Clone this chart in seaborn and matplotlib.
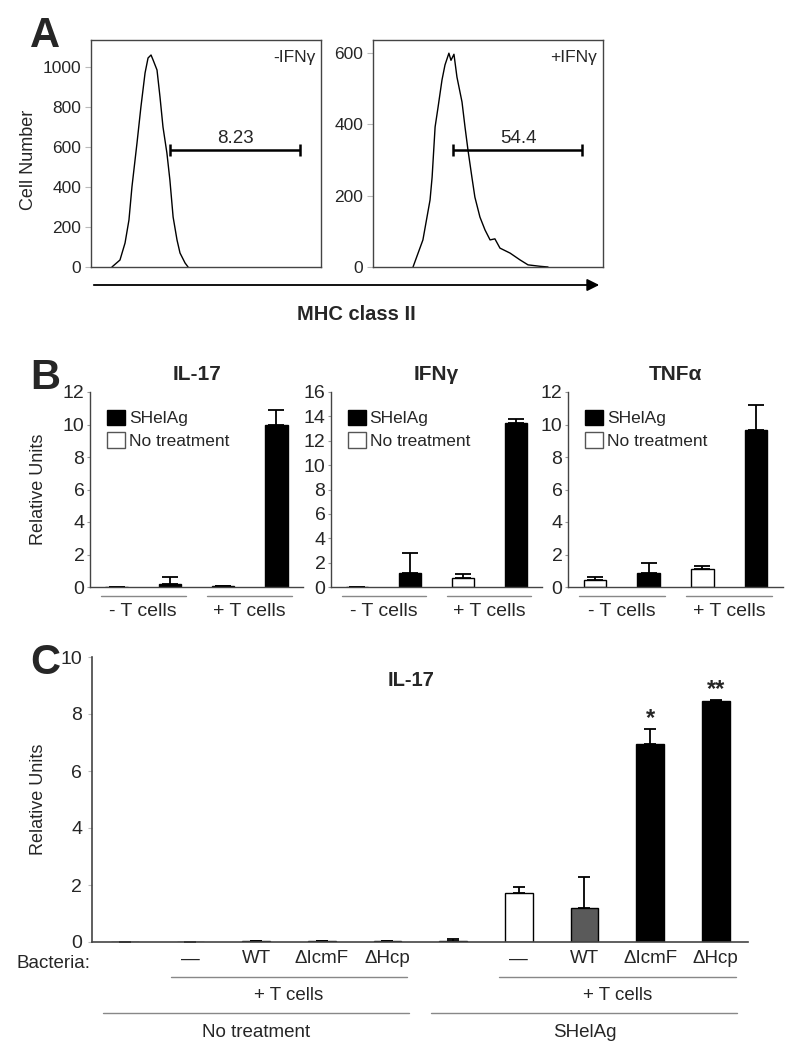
import numpy as np
import pandas as pd
import matplotlib
matplotlib.use("Agg")
import matplotlib.pyplot as plt
import seaborn as sns
from matplotlib.patches import Patch

sns.set_theme(style="white")
plt.rcParams['font.family'] = ['Liberation Sans', 'DejaVu Sans']

# ---------------- Panel A data (flow histograms) ----------------
hist_neg_x = [91, 126, 148, 165, 178, 200, 217, 235, 248, 261, 270, 287, 300,
              313, 330, 343, 357, 374, 387, 409, 422]
hist_neg_y = [0, 35, 120, 235, 400, 620, 800, 970, 1045, 1060, 1035, 985, 850,
              700, 570, 435, 250, 135, 70, 20, 0]
hist_pos_x = [174, 217, 248, 257, 270, 283, 300, 313, 330, 339, 352, 365, 387,
              400, 413, 430, 443, 465, 487, 509, 530, 552, 596, 639, 674, 726, 761]
hist_pos_y = [0, 76, 188, 252, 393, 449, 525, 567, 600, 580, 597, 533, 463,
              393, 328, 252, 196, 140, 104, 76, 79, 53, 39, 20, 6, 2, 0]
gate_neg_x = [343, 909]
gate_neg_y = 585
gate_neg_label = "8.23"
gate_pos_x = [348, 909]
gate_pos_y = 328
gate_pos_label = "54.4"
a_conditions = ["-IFNγ", "+IFNγ"]

# ---------------- Panel B data ----------------
b_groups = ["- T cells", "+ T cells"]
b_group_idx = [[0, 1], [2, 3]]
b_treat = ["No treatment", "SHelAg", "No treatment", "SHelAg"]
b_titles = ["IL-17", "IFNγ", "TNFα"]
il17_vals = [0.0, 0.2, 0.08, 10.0]
il17_err = [0.0, 0.4, 0.0, 0.9]
ifng_vals = [0.0, 1.17, 0.72, 13.45]
ifng_err = [0.0, 1.63, 0.33, 0.35]
tnfa_vals = [0.43, 0.87, 1.1, 9.66]
tnfa_err = [0.17, 0.58, 0.2, 1.54]
b_ymax = [12, 16, 12]

# ---------------- Panel C data ----------------
c_bacteria = ["", "—", "WT", "ΔIcmF", "ΔHcp", "", "—", "WT", "ΔIcmF", "ΔHcp"]
c_vals = [0.0, 0.0, 0.04, 0.04, 0.04, 0.04, 1.72, 1.2, 6.95, 8.45]
c_err = [0.0, 0.0, 0.01, 0.01, 0.01, 0.06, 0.22, 1.08, 0.52, 0.05]
c_colors = ["white", "white", "white", "white", "white", "black",
            "white", "#5a5a5a", "black", "black"]
c_sig = ["", "", "", "", "", "", "", "", "*", "**"]
c_tcell_groups = [[1, 2, 3, 4], [6, 7, 8, 9]]
c_tcell_label = "+ T cells"
c_treat_groups = [[0, 1, 2, 3, 4], [5, 6, 7, 8, 9]]
c_treat_labels = ["No treatment", "SHelAg"]

W, H = 790, 1050
fig = plt.figure(figsize=(W / 100, H / 100), dpi=100)


def rect(x0, y0, x1, y1):
    return [x0 / W, 1 - y1 / H, (x1 - x0) / W, (y1 - y0) / H]


SPINE = "#444444"

# ---------------- Panel A ----------------
a_axes = [fig.add_axes(rect(91, 40, 321, 267)), fig.add_axes(rect(373, 40, 603, 267))]
a_data = [(hist_neg_x, hist_neg_y, gate_neg_x, gate_neg_y, gate_neg_label, 1135, 1000),
          (hist_pos_x, hist_pos_y, gate_pos_x, gate_pos_y, gate_pos_label, 637, 600)]
for ax, (hx, hy, gx, gy, glab, ytop, tmax), cond in zip(a_axes, a_data, a_conditions):
    sns.lineplot(x=hx, y=hy, color="black", lw=1.0, ax=ax)
    ax.set_xlim(0, 1000)
    ax.set_ylim(0, ytop)
    ax.set_yticks(np.arange(0, tmax + 1, 200))
    ax.set_xticks([])
    for s in ax.spines.values():
        s.set_color(SPINE)
        s.set_linewidth(1.0)
    ax.tick_params(axis="y", left=True, length=4, width=0.8, color="#bbbbbb",
                   labelsize=12.5, pad=3)
    cx = (gx[0] + gx[1]) / 2
    ax.errorbar([cx], [gy], xerr=[(gx[1] - gx[0]) / 2], fmt="none", ecolor="black",
                elinewidth=1.8, capsize=4, capthick=1.8)
    ax.text(cx + 4, gy + ytop * 0.03, glab, ha="center", va="baseline", fontsize=13.5)
    ax.text(0.975, 0.955, cond, transform=ax.transAxes, ha="right", va="top", fontsize=12.5)

a_axes[0].set_ylabel("Cell Number", fontsize=13)
a_axes[0].yaxis.set_label_coords(-0.235, 0.47)

fig.text(30 / W, 1 - 16 / H, "A", fontsize=30, fontweight="bold", ha="left", va="top")
fig.add_artist(matplotlib.patches.FancyArrowPatch(
    (91 / W, 1 - 285 / H), (602 / W, 1 - 285 / H), transform=fig.transFigure,
    arrowstyle="-|>", mutation_scale=18, color="black", lw=1.3))
fig.text(356 / W, 1 - 315 / H, "MHC class II", fontsize=14.5, fontweight="bold",
         ha="center", va="center")

# ---------------- Panel B ----------------
b_rects = [rect(90, 392, 303, 587), rect(331, 392, 542, 587), rect(568, 392, 783, 587)]
b_vals = [il17_vals, ifng_vals, tnfa_vals]
b_errs = [il17_err, ifng_err, tnfa_err]
treat_color = {"No treatment": "white", "SHelAg": "black"}

for r, vals, errs, title, ymax in zip(b_rects, b_vals, b_errs, b_titles, b_ymax):
    ax = fig.add_axes(r)
    cats = [f"b{i}" for i in range(len(vals))]
    df = pd.DataFrame({"cat": cats, "val": vals})
    pal = {c: treat_color[t] for c, t in zip(cats, b_treat)}
    sns.barplot(data=df, x="cat", y="val", hue="cat", palette=pal, legend=False,
                width=0.42, saturation=1, edgecolor="black", linewidth=1.0,
                errorbar=None, ax=ax)
    ax.errorbar(np.arange(len(vals)), vals, yerr=[np.zeros(len(vals)), errs],
                fmt="none", ecolor="black", elinewidth=1.3, capsize=6, capthick=1.3)
    ax.set_xlim(-0.5, 3.5)
    ax.set_ylim(0, ymax)
    ax.set_yticks(np.arange(0, ymax + 1, 2))
    ax.set_xticks([])
    ax.set_xlabel("")
    ax.set_ylabel("")
    for side in ["top", "right"]:
        ax.spines[side].set_visible(False)
    for side in ["left", "bottom"]:
        ax.spines[side].set_color(SPINE)
        ax.spines[side].set_linewidth(1.0)
    ax.tick_params(axis="y", left=True, length=2, width=0.8, color="#999999",
                   labelsize=14, pad=2)
    ax.set_title(title, fontsize=15, fontweight="bold", pad=9)
    handles = [Patch(facecolor="black", edgecolor="black", label="SHelAg"),
               Patch(facecolor="white", edgecolor="#555555", label="No treatment")]
    ax.legend(handles=handles, loc="upper left", bbox_to_anchor=(0.08, 0.91),
              frameon=False, fontsize=12.5, handlelength=1.05, handleheight=1.0,
              handletextpad=0.2, labelspacing=0.35, borderpad=0, borderaxespad=0)
    trans = ax.get_xaxis_transform()
    for idx, lab in zip(b_group_idx, b_groups):
        x0, x1 = min(idx) - 0.3, max(idx) + 0.3
        ax.plot([x0, x1], [-0.046, -0.046], transform=trans, color="#888888", lw=1.0,
                clip_on=False)
        ax.text((x0 + x1) / 2, -0.128, lab, transform=trans, ha="center", va="center",
                fontsize=14)
    if title == b_titles[0]:
        ax.set_ylabel("Relative Units", fontsize=13)
        ax.yaxis.set_label_coords(-0.2, 0.5)

fig.text(30 / W, 1 - 358 / H, "B", fontsize=30, fontweight="bold", ha="left", va="top")

# ---------------- Panel C ----------------
axc = fig.add_axes(rect(92, 657, 748, 942))
cats = [f"c{i}" for i in range(len(c_vals))]
dfc = pd.DataFrame({"cat": cats, "val": c_vals})
sns.barplot(data=dfc, x="cat", y="val", hue="cat", palette=dict(zip(cats, c_colors)),
            legend=False, width=0.42, saturation=1, edgecolor="black", linewidth=1.0,
            errorbar=None, ax=axc)
pos = np.arange(len(c_vals))
axc.errorbar(pos, c_vals, yerr=[np.zeros(len(c_vals)), c_err], fmt="none",
             ecolor="black", elinewidth=1.3, capsize=4.3, capthick=1.3)
for x, v, e, s in zip(pos, c_vals, c_err, c_sig):
    if s:
        axc.text(x, v + e + 0.13, s, ha="center", va="baseline", fontsize=17,
                 fontweight="bold")
axc.set_xlim(-0.5, 9.49)
axc.set_ylim(0, 10)
axc.set_yticks(np.arange(0, 11, 2))
axc.set_xticks(pos)
axc.set_xticklabels(c_bacteria, fontsize=13.5)
axc.set_xlabel("")
axc.set_ylabel("Relative Units", fontsize=13)
axc.yaxis.set_label_coords(-0.069, 0.5)
for side in ["top", "right"]:
    axc.spines[side].set_visible(False)
for side in ["left", "bottom"]:
    axc.spines[side].set_color(SPINE)
    axc.spines[side].set_linewidth(1.2)
axc.tick_params(axis="y", left=True, length=3, width=0.8, color="#bbbbbb",
                labelsize=14, pad=4)
axc.tick_params(axis="x", bottom=False, length=0, pad=6)
axc.text(0.486, 0.919, "IL-17", transform=axc.transAxes, ha="center", va="center",
         fontsize=14.5, fontweight="bold")
transc = axc.get_xaxis_transform()
axc.text(-0.003, -0.074, "Bacteria:", transform=axc.transAxes, ha="right",
         va="center", fontsize=13.5)
for idx in c_tcell_groups:
    x0, x1 = min(idx) - 0.3, max(idx) + 0.3
    axc.plot([x0, x1], [-0.123, -0.123], transform=transc, color="#888888", lw=1.0,
             clip_on=False)
    axc.text((x0 + x1) / 2, -0.186, c_tcell_label, transform=transc, ha="center",
             va="center", fontsize=13.5)
for idx, lab in zip(c_treat_groups, c_treat_labels):
    x0, x1 = min(idx) - 0.33, max(idx) + 0.33
    axc.plot([x0, x1], [-0.249, -0.249], transform=transc, color="#888888", lw=1.0,
             clip_on=False)
    axc.text((x0 + x1) / 2, -0.316, lab, transform=transc, ha="center", va="center",
             fontsize=13.5)

fig.text(30 / W, 1 - 643 / H, "C", fontsize=30, fontweight="bold", ha="left", va="top")

fig.savefig("out.png", dpi=100)
